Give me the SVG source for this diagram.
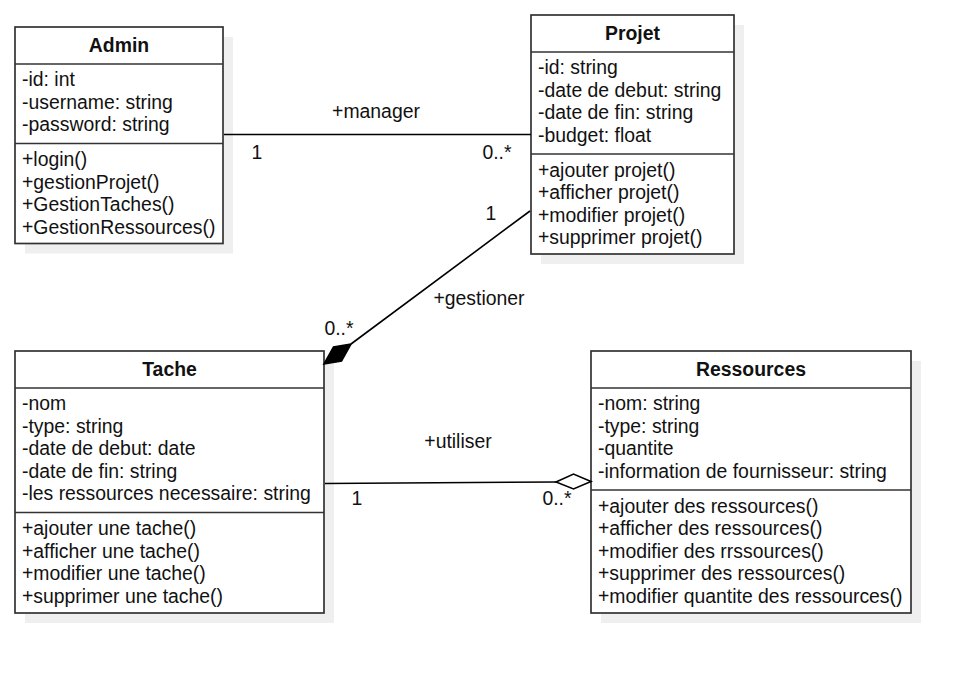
<svg xmlns="http://www.w3.org/2000/svg" width="970" height="675" viewBox="0 0 970 675">
<style>
.shadow{fill:#efefef;stroke:none}
.box{fill:#ffffff;stroke:#333333;stroke-width:1.7}
.sep{stroke:#333333;stroke-width:1.7}
text{font-family:"Liberation Sans",Arial,Helvetica,sans-serif;font-size:19.4px;fill:#111111}
.title{font-weight:bold;text-anchor:middle}
.lbl{text-anchor:middle}
.conn{stroke:#000000;stroke-width:1.6;fill:none}
</style>
<rect width="970" height="675" fill="#ffffff"/>

<g id="Admin">
<rect class="shadow" x="25" y="37" width="208" height="216.5"/>
<rect class="box" x="15" y="27" width="208" height="216.5"/>
<line class="sep" x1="15" y1="64" x2="223" y2="64"/>
<line class="sep" x1="15" y1="143.5" x2="223" y2="143.5"/>
<text class="title" x="119" y="52">Admin</text>
<text x="22" y="86">-id: int</text>
<text x="22" y="108.5">-username: string</text>
<text x="22" y="131">-password: string</text>
<text x="22" y="166">+login()</text>
<text x="22" y="188.5">+gestionProjet()</text>
<text x="22" y="211">+GestionTaches()</text>
<text x="22" y="233.5">+GestionRessources()</text>
</g>

<g id="Projet">
<rect class="shadow" x="541" y="25" width="203" height="239"/>
<rect class="box" x="531" y="15" width="203" height="239"/>
<line class="sep" x1="531" y1="52" x2="734" y2="52"/>
<line class="sep" x1="531" y1="154" x2="734" y2="154"/>
<text class="title" x="632.5" y="40">Projet</text>
<text x="538" y="74">-id: string</text>
<text x="538" y="96.5">-date de debut: string</text>
<text x="538" y="119">-date de fin: string</text>
<text x="538" y="141.5">-budget: float</text>
<text x="538" y="176.5">+ajouter projet()</text>
<text x="538" y="199">+afficher projet()</text>
<text x="538" y="221.5">+modifier projet()</text>
<text x="538" y="244">+supprimer projet()</text>
</g>

<g id="Tache">
<rect class="shadow" x="25" y="361" width="309" height="262"/>
<rect class="box" x="15" y="351" width="309" height="262"/>
<line class="sep" x1="15" y1="388" x2="324" y2="388"/>
<line class="sep" x1="15" y1="512.5" x2="324" y2="512.5"/>
<text class="title" x="169.5" y="376">Tache</text>
<text x="22" y="410">-nom</text>
<text x="22" y="432.5">-type: string</text>
<text x="22" y="455">-date de debut: date</text>
<text x="22" y="477.5">-date de fin: string</text>
<text x="22" y="500">-les ressources necessaire: string</text>
<text x="22" y="535">+ajouter une tache()</text>
<text x="22" y="557.5">+afficher une tache()</text>
<text x="22" y="580">+modifier une tache()</text>
<text x="22" y="602.5">+supprimer une tache()</text>
</g>

<g id="Ressources">
<rect class="shadow" x="601" y="361" width="320" height="262"/>
<rect class="box" x="591" y="351" width="320" height="262"/>
<line class="sep" x1="591" y1="388" x2="911" y2="388"/>
<line class="sep" x1="591" y1="490" x2="911" y2="490"/>
<text class="title" x="751" y="376">Ressources</text>
<text x="598" y="410">-nom: string</text>
<text x="598" y="432.5">-type: string</text>
<text x="598" y="455">-quantite</text>
<text x="598" y="477.5">-information de fournisseur: string</text>
<text x="598" y="512.5">+ajouter des ressources()</text>
<text x="598" y="535">+afficher des ressources()</text>
<text x="598" y="557.5">+modifier des rrssources()</text>
<text x="598" y="580">+supprimer des ressources()</text>
<text x="598" y="602.5">+modifier quantite des ressources()</text>
</g>

<g id="connectors">
<line class="conn" x1="224" y1="134.5" x2="531" y2="134.5"/>
<text class="lbl" x="376" y="118">+manager</text>
<text class="lbl" x="257" y="159">1</text>
<text class="lbl" x="497" y="159">0..*</text>

<line class="conn" x1="351" y1="344" x2="530" y2="211"/>
<polygon points="324,364 333.5,347 351,344 341.5,361" fill="#000000" stroke="#000000" stroke-width="1.6" stroke-linejoin="miter"/>
<text class="lbl" x="479" y="305">+gestioner</text>
<text class="lbl" x="339" y="335">0..*</text>
<text class="lbl" x="491" y="220">1</text>

<line class="conn" x1="325" y1="483.5" x2="556" y2="482"/>
<polygon points="591,481.5 573.5,474 556,482 573.5,489" fill="#ffffff" stroke="#000000" stroke-width="1.6"/>
<text class="lbl" x="458" y="448">+utiliser</text>
<text class="lbl" x="357" y="505">1</text>
<text class="lbl" x="557" y="505">0..*</text>
</g>
</svg>
